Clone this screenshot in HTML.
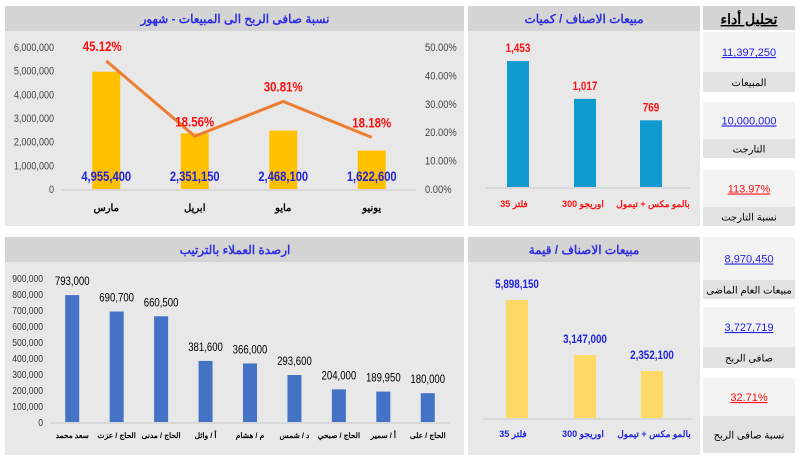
<!DOCTYPE html>
<html><head><meta charset="utf-8"><style>
body{margin:0;width:800px;height:460px;background:#fff;overflow:hidden;font-family:"Liberation Sans","Noto Sans CJK SC",sans-serif}
svg{display:block}
</style></head><body>
<svg id="s" width="800" height="460" xmlns="http://www.w3.org/2000/svg" font-family="Liberation Sans, Noto Sans CJK SC, sans-serif">
<rect x="5" y="6" width="459" height="220" fill="#e8e8e8"/>
<rect x="5" y="6" width="459" height="25" fill="#d4d4d4"/>
<text x="235" y="23" text-anchor="middle" font-size="12" font-weight="bold" fill="#2f2fe0">نسبة صافى الربح الى المبيعات - شهور</text>
<rect x="468" y="6" width="232" height="220" fill="#e8e8e8"/>
<rect x="468" y="6" width="232" height="25" fill="#d4d4d4"/>
<text x="584" y="23" text-anchor="middle" font-size="12" font-weight="bold" fill="#2f2fe0">مبيعات الاصناف / كميات</text>
<rect x="5" y="237" width="459" height="218" fill="#e8e8e8"/>
<rect x="5" y="237" width="459" height="25" fill="#d4d4d4"/>
<text x="235" y="254" text-anchor="middle" font-size="12" font-weight="bold" fill="#2f2fe0">ارصدة العملاء بالترتيب</text>
<rect x="468" y="237" width="232" height="218" fill="#e8e8e8"/>
<rect x="468" y="237" width="232" height="25" fill="#d4d4d4"/>
<text x="584" y="254" text-anchor="middle" font-size="12" font-weight="bold" fill="#2f2fe0">مبيعات الاصناف / قيمة</text>
<rect x="703" y="6" width="92" height="24" fill="#d4d4d4"/>
<text x="749" y="24" text-anchor="middle" font-size="14" font-weight="bold" fill="#000" text-decoration="underline">تحليل أداء</text>
<g id="kpi"></g>
<g id="c1"></g><g id="c2"></g><g id="c3"></g><g id="c4"></g>
</svg>
<script>
const months=["مارس","ابريل","مايو","يونيو"];
const monthSales=[4955400,2351150,2468100,1622600];
const monthPct=[45.12,18.56,30.81,18.18];
const leftTicks=[0,1000000,2000000,3000000,4000000,5000000,6000000];
const rightTicks=[0,10,20,30,40,50];
const qtyItems=["فلتر 35","اوريجو 300","بالمو مكس + تيمول"];
const qtyVals=[1453,1017,769];
const custNames=["سعد محمد","الحاج / عزت","الحاج / مدنى","أ / وائل","م / هشام","د / شمس","الحاج / صبحي","أ / سمير","الحاج / على"];
const custVals=[793000,690700,660500,381600,366000,293600,204000,189950,180000];
const custTicks=[0,100000,200000,300000,400000,500000,600000,700000,800000,900000];
const valItems=["فلتر 35","اوريجو 300","بالمو مكس + تيمول"];
const valVals=[5898150,3147000,2352100];
const kpiVals=["11,397,250","10,000,000","113.97%","8,970,450","3,727,719","32.71%"];
const kpiLabels=["المبيعات","التارجت","نسبة التارجت","مبيعات العام الماضى","صافى الربح","نسبة صافى الربح"];
const NS="http://www.w3.org/2000/svg";
function el(p,t,a,txt){const e=document.createElementNS(NS,t);for(const k in a)e.setAttribute(k,a[k]);if(txt!==undefined)e.textContent=txt;p.appendChild(e);return e;}
function sq(e,f){try{const w=e.getComputedTextLength();if(w>0){e.setAttribute('textLength',w*f);e.setAttribute('lengthAdjust','spacingAndGlyphs');}}catch(x){}return e;}
const fmt=v=>v.toLocaleString('en-US');
(function(){const g=document.getElementById('c1');
const x0=62,x1=416,y0=189,y1=47,n=months.length,bw=(x1-x0)/n;
const yL=v=>y0-(v/6000000)*(y0-y1), yR=v=>y0-(v/50)*(y0-y1), xc=i=>x0+bw*(i+0.5);
leftTicks.forEach(t=>{const e=sq(el(g,'text',{x:54,y:yL(t)+4,'text-anchor':'end','font-size':11,fill:'#444'},fmt(t)),0.82);

});
rightTicks.forEach(t=>{const e=sq(el(g,'text',{x:425,y:yR(t)+4,'font-size':11,fill:'#444'},t.toFixed(2)+'%'),0.85);

});
el(g,'line',{x1:x0,x2:x1,y1:y0+1,y2:y0+1,stroke:'#c8c8c8'});
monthSales.forEach((v,i)=>{const r=el(g,'rect',{x:xc(i)-14,y:yL(v),width:28,height:y0-yL(v),fill:'#ffc000'});


const t=sq(el(g,'text',{x:xc(i),y:181,'text-anchor':'middle','font-size':14,'font-weight':'bold',fill:'#2222dd'},fmt(v)),0.8);


const c=el(g,'text',{x:xc(i),y:211,'text-anchor':'middle','font-size':10,'font-weight':'bold',fill:'#000'},months[i]);

});
const pl=el(g,'polyline',{points:monthPct.map((p,i)=>xc(i)+','+yR(p)).join(' '),fill:'none',stroke:'#ed7d31','stroke-width':3});


monthPct.forEach((p,i)=>{const t=sq(el(g,'text',{x:xc(i)+(i==0?-4:0),y:yR(p)-10,'text-anchor':'middle','font-size':14,'font-weight':'bold',fill:'#ff1010'},p.toFixed(2)+'%'),0.82);

});})();
(function(){const g=document.getElementById('c2');const y0=187,h=138.7,cs=[518,585,651];
el(g,'line',{x1:485,x2:690,y1:y0+1,y2:y0+1,stroke:'#c8c8c8'});
qtyVals.forEach((v,i)=>{const top=y0-v/1600*h;
const r=el(g,'rect',{x:cs[i]-11,y:top,width:22,height:y0-top,fill:'#0f9bd0'});


const t=sq(el(g,'text',{x:cs[i],y:top-9,'text-anchor':'middle','font-size':12,'font-weight':'bold',fill:'#ff1010'},fmt(v)),0.82);


const c=el(g,'text',{x:cs[i]-(i==0?4:i==2?-2:2),y:207,'text-anchor':'middle','font-size':9,'font-weight':'bold',fill:'#ff1010'},qtyItems[i]);

});})();
(function(){const g=document.getElementById('c3');const x0=50,x1=450,y0=422,y1=278,n=custVals.length,bw=(x1-x0)/n;
const y=v=>y0-v/900000*(y0-y1),xc=i=>x0+bw*(i+0.5);
custTicks.forEach(t=>{const e=sq(el(g,'text',{x:43,y:y(t)+4,'text-anchor':'end','font-size':10,fill:'#333'},fmt(t)),0.85);

});
el(g,'line',{x1:x0,x2:x1,y1:y0+1,y2:y0+1,stroke:'#c8c8c8'});
custVals.forEach((v,i)=>{const r=el(g,'rect',{x:xc(i)-7,y:y(v),width:14,height:y0-y(v),fill:'#4472c4'});


const t=sq(el(g,'text',{x:xc(i),y:y(v)-10,'text-anchor':'middle','font-size':12,fill:'#000'},fmt(v)),0.8);


const c=el(g,'text',{x:xc(i),y:438,'text-anchor':'middle','font-size':7.5,'font-weight':'bold',fill:'#000'},custNames[i]);

});})();
(function(){const g=document.getElementById('c4');const y0=418,cs=[517,585,652];
el(g,'line',{x1:483,x2:692,y1:y0+1,y2:y0+1,stroke:'#c8c8c8'});
valVals.forEach((v,i)=>{const top=y0-v/6000000*120;
const r=el(g,'rect',{x:cs[i]-11,y:top,width:22,height:y0-top,fill:'#ffd966'});


const t=sq(el(g,'text',{x:cs[i],y:top-12,'text-anchor':'middle','font-size':12,'font-weight':'bold',fill:'#2222dd'},fmt(v)),0.82);


const c=el(g,'text',{x:cs[i]-(i==0?4:i==2?-2:2),y:437,'text-anchor':'middle','font-size':9,'font-weight':'bold',fill:'#2222dd'},valItems[i]);

});})();
(function(){const g=document.getElementById('kpi');
const blocks=[[32,72,92],[102,139,158],[170,207,226],[237,280,299],[307,347,368],[378,416,453]];
blocks.forEach((b,i)=>{el(g,'rect',{x:703,y:b[0],width:92,height:b[1]-b[0],fill:'#f2f2f2'});
el(g,'rect',{x:703,y:b[1],width:92,height:b[2]-b[1],fill:'#e2e2e2'});
const red=kpiVals[i].includes('%');
const t=el(g,'text',{x:749,y:(b[0]+b[1])/2+4,'text-anchor':'middle','font-size':11,fill:red?'#ff1010':'#2222dd','text-decoration':'underline'},kpiVals[i]);


const l=el(g,'text',{x:749,y:(b[1]+b[2])/2+4,'text-anchor':'middle','font-size':10,fill:'#000'},kpiLabels[i]);

});})();
</script>
</body></html>
